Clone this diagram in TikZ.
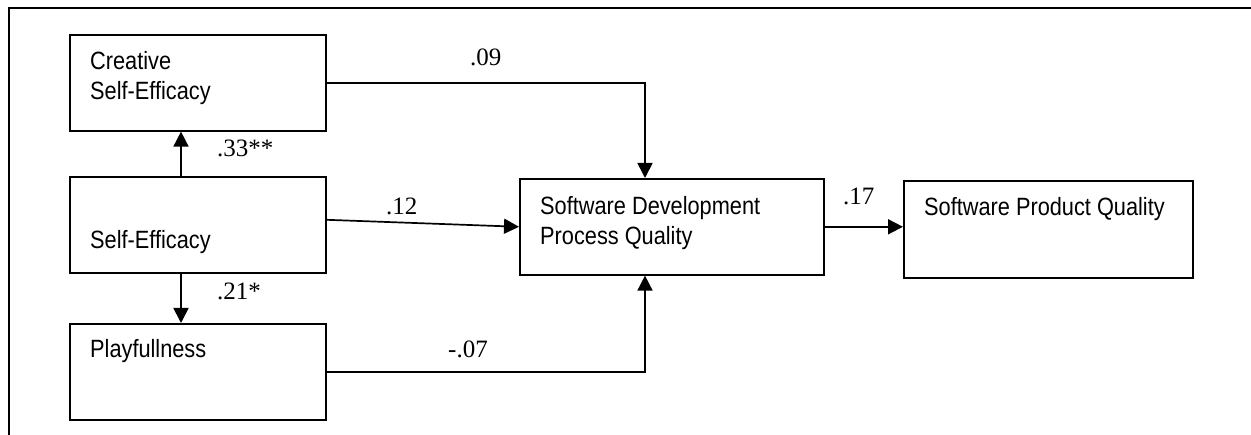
\documentclass[tikz,border=0pt]{standalone}
\usepackage{fontspec}
\setmainfont{Liberation Serif}
\newfontfamily\boxfont[FakeStretch=0.87]{Liberation Sans}
\usetikzlibrary{arrows.meta,calc}
\begin{document}
\begin{tikzpicture}[x=1pt,y=-1pt,
  box/.style={draw,line width=1.6pt,rectangle,anchor=north west,inner sep=0pt,minimum width=#1},
  box/.default=256pt,
  btext/.style={anchor=base west,inner sep=0pt,font=\boxfont\fontsize{25}{30}\selectfont,align=left},
  lab/.style={anchor=base west,inner sep=0pt,font=\fontsize{25}{30}\selectfont},
  arr/.style={line width=1.7pt,-{Triangle[length=15pt,width=15pt]}},
  frame/.style={line width=2pt}]
\useasboundingbox (0,0) rectangle (1251,435);
\draw[frame] (9,435) -- (9,8) -- (1251,8);
% boxes
\node[box,minimum height=96pt] (cse) at (69,34) {};
\node[box,minimum height=96pt] (se) at (69,176) {};
\node[box,minimum height=96pt] (pl) at (69,323) {};
\node[box=304pt,minimum height=96pt] (sdpq) at (519,178) {};
\node[box=289pt,minimum height=97pt] (spq) at (903,180) {};
% box texts
\node[btext] (tcse) at (90,100) {Creative\\Self-Efficacy};
\node[btext] (tse) at (90,249) {Self-Efficacy};
\node[btext] (tpl) at (90,358) {Playfullness};
\node[btext] (tsdpq) at (540,245) {Software Development\\Process Quality};
\node[btext] (tspq) at (924,216) {Software Product Quality};
% connectors
\draw[arr] ([xshift=112pt]se.north west) -- ([xshift=112pt]cse.south west);
\draw[arr] ([xshift=112pt]se.south west) -- ([xshift=112pt]pl.north west);
\draw[arr] (cse.east) -| ([xshift=126pt]sdpq.north west);
\draw[arr] ([yshift=5pt]se.east) -- (sdpq.west);
\draw[arr] (pl.east) -| ([xshift=126pt]sdpq.south west);
\draw[arr] (sdpq.east) -- (sdpq.east -| spq.west);
% labels
\node[lab] (l33) at (217,157) {.33**};
\node[lab] (l21) at (217,300) {.21*};
\node[lab] (l09) at (470,66) {.09};
\node[lab] (l12) at (386,215) {.12};
\node[lab] (l07) at (448,358) {-.07};
\node[lab] (l17) at (843,205) {.17};
\end{tikzpicture}
\end{document}
